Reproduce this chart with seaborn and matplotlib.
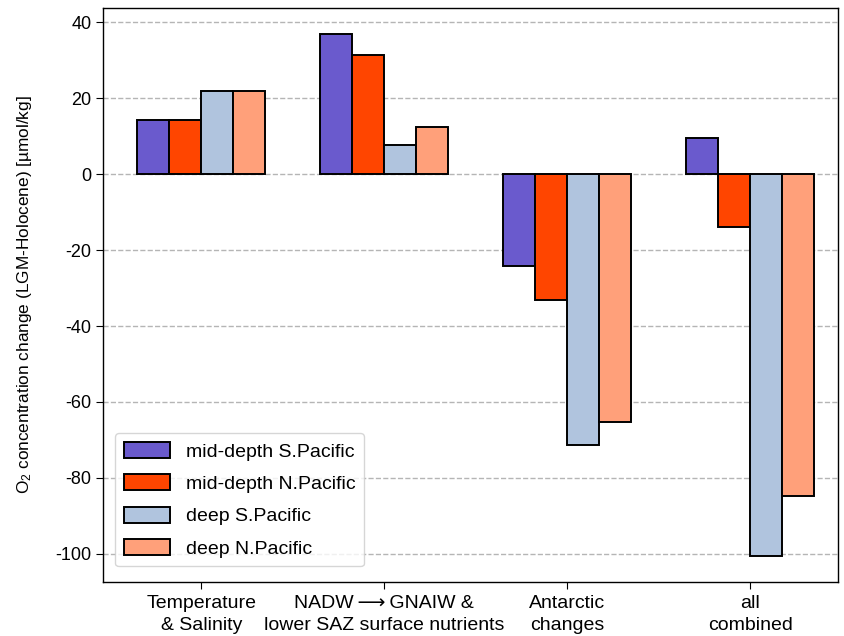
import pandas as pd
import numpy as np
import matplotlib
matplotlib.use('Agg')
import matplotlib.pyplot as plt
import seaborn as sns

# Szenarien (x-Achse)
scenarios = ['Temperature\n& Salinity',
             'NADW\u2009\u27f6\u2009GNAIW &\nlower SAZ surface nutrients',
             'Antarctic\nchanges',
             'all\ncombined']
regions = ['mid-depth S.Pacific', 'mid-depth N.Pacific', 'deep S.Pacific', 'deep N.Pacific']

# O2-Änderungen pro Region
mid_s_pacific = [14.2, 36.8, -24.1, 9.5]
mid_n_pacific = [14.2, 31.5, -33.2, -13.8]
deep_s_pacific = [21.9, 7.6, -71.4, -100.5]
deep_n_pacific = [21.9, 12.4, -65.4, -84.7]

colors = ['#6A5ACD', '#FF4500', '#B0C4DE', '#FFA07A']

df = pd.DataFrame({
    'scenario': scenarios * 4,
    'region': np.repeat(regions, len(scenarios)),
    'value': mid_s_pacific + mid_n_pacific + deep_s_pacific + deep_n_pacific,
})

sns.set_style('ticks')
plt.rcParams['font.family'] = ['Liberation Sans', 'DejaVu Sans']
plt.rcParams['axes.unicode_minus'] = False
plt.rcParams['text.color'] = 'black'
plt.rcParams['axes.labelcolor'] = 'black'
plt.rcParams['xtick.color'] = 'black'
plt.rcParams['ytick.color'] = 'black'
plt.rcParams['axes.edgecolor'] = 'black'

fig, ax = plt.subplots(figsize=(8.45, 6.36), dpi=100)
sns.barplot(data=df, x='scenario', y='value', hue='region', order=scenarios,
            hue_order=regions, palette=colors, width=0.7, edgecolor='black',
            linewidth=1.4, saturation=1, ax=ax, zorder=3)

ax.set_ylim(-107.4, 43.7)
ax.set_xlim(-0.536, 3.48)
ax.set_yticks(np.arange(-100, 41, 20))
ax.yaxis.grid(True, linestyle='--', color='#b5b5b5', linewidth=1.0, zorder=0)
ax.set_axisbelow(True)
ax.set_xlabel('')
ax.set_ylabel(r'$\mathregular{O_2}$ concentration change (LGM-Holocene) [µmol/kg]',
              fontsize=12.4, labelpad=15)
ax.tick_params(axis='y', labelsize=13, length=5)
ax.tick_params(axis='x', labelsize=14, length=5, pad=4.5)
for lbl in ax.get_xticklabels():
    lbl.set_linespacing(1.35)
for s in ax.spines.values():
    s.set_linewidth(1.0)

leg = ax.legend(loc='lower left', fontsize=14, frameon=True, fancybox=True,
                borderpad=0.45, labelspacing=0.7, handlelength=2.4, handleheight=0.9,
                handletextpad=0.8, bbox_to_anchor=(0.003, 0.01))
leg.get_frame().set_edgecolor('#cccccc')

plt.subplots_adjust(left=0.122, right=0.992, top=0.987, bottom=0.085)
plt.savefig('out.png', dpi=100)
